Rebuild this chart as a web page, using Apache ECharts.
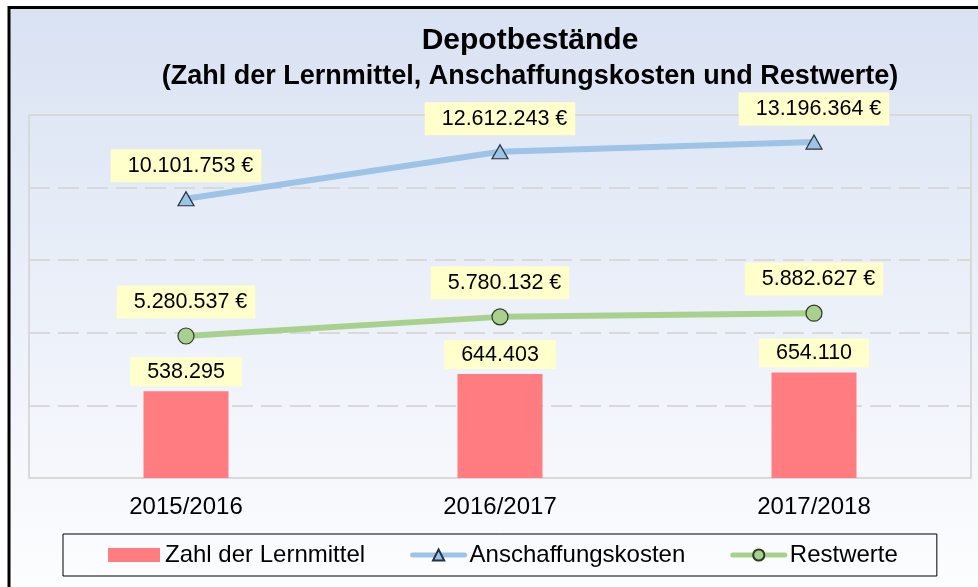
<!DOCTYPE html>
<html>
<head>
<meta charset="utf-8">
<title>Depotbestände</title>
<script src="https://cdn.jsdelivr.net/npm/echarts@6/dist/echarts.min.js"></script>
<style>
  html, body { margin: 0; padding: 0; background: #fff; overflow: hidden; }
  #chart { width: 978px; height: 587px; }
</style>
</head>
<body>
<div id="chart"></div>
<script>
// Werte
const categories = ['2015/2016', '2016/2017', '2017/2018']
const lernmittel = [538295, 644403, 654110]
const anschaffung = [10101753, 12612243, 13196364]
const restwerte = [5280537, 5780132, 5882627]

const font = '"Liberation Sans", Arial, sans-serif'

function fmt(v) {
  return String(v).replace(/\B(?=(\d{3})+(?!\d))/g, '.')
}

const labelBox = {
  show: true,
  position: 'top',
  fontFamily: font,
  fontSize: 21.5,
  color: '#000',
  backgroundColor: '#ffffcc'
}

const myChart = echarts.init(document.getElementById('chart'), null, { renderer: 'canvas' })

const option = {
  animation: false,
  textStyle: { fontFamily: font },
  graphic: [
    {
      type: 'rect',
      z: -10,
      silent: true,
      shape: { x: 9, y: 7.5, width: 1040, height: 620 },
      style: {
        stroke: '#000',
        lineWidth: 3,
        fill: new echarts.graphic.LinearGradient(0, 0, 0, 1, [
          { offset: 0, color: '#d9e2f3' },
          { offset: 1, color: '#ffffff' }
        ])
      }
    }
  ],
  title: {
    text: 'Depotbestände',
    subtext: '(Zahl der Lernmittel, Anschaffungskosten und Restwerte)',
    left: 525,
    top: 21,
    textAlign: 'center',
    itemGap: 7,
    textStyle: { fontFamily: font, fontSize: 30, fontWeight: 'bold', color: '#000' },
    subtextStyle: { fontFamily: font, fontSize: 27, fontWeight: 'bold', color: '#000' }
  },
  legend: {
    left: 63,
    top: 534,
    padding: [9, 39, 9, 45],
    itemGap: 45,
    itemWidth: 52,
    itemHeight: 14,
    borderColor: '#000',
    borderWidth: 1,
    lineStyle: { width: 5, cap: 'round' },
    textStyle: { fontFamily: font, fontSize: 24, color: '#000' },
    data: [
      { name: 'Zahl der Lernmittel', icon: 'rect' },
      { name: 'Anschaffungskosten' },
      { name: 'Restwerte' }
    ]
  },
  grid: {
    left: 29,
    right: 7,
    top: 115,
    bottom: 109,
    show: true,
    borderColor: '#d9d9d9',
    borderWidth: 2,
    backgroundColor: 'transparent'
  },
  xAxis: {
    type: 'category',
    data: categories,
    axisLine: { lineStyle: { color: '#d9d9d9', width: 2 } },
    axisTick: { show: false },
    axisLabel: { fontFamily: font, fontSize: 24, color: '#000', margin: 17 }
  },
  yAxis: [
    {
      // Euro-Werte, logarithmisch
      type: 'log',
      min: 2700000,
      max: 15000000,
      show: false,
      splitLine: { show: false }
    },
    {
      // Stückzahlen
      type: 'value',
      min: 0,
      max: 2250000,
      interval: 450000,
      axisLine: { show: false },
      axisTick: { show: false },
      axisLabel: { show: false },
      splitLine: {
        show: true,
        lineStyle: { color: '#d9d9d9', width: 2, type: [21, 8] }
      }
    }
  ],
  series: [
    {
      name: 'Zahl der Lernmittel',
      type: 'bar',
      yAxisIndex: 1,
      data: lernmittel,
      barWidth: 85,
      itemStyle: { color: '#ff7c80' },
      label: Object.assign({}, labelBox, {
        distance: 5,
        padding: [4, 17, 3, 17],
        formatter: p => fmt(p.value)
      })
    },
    {
      name: 'Anschaffungskosten',
      type: 'line',
      yAxisIndex: 0,
      data: anschaffung,
      symbol: 'triangle',
      symbolSize: [16, 14],
      lineStyle: { color: '#9dc3e6', width: 6 },
      itemStyle: { color: '#9dc3e6', borderColor: '#26323f', borderWidth: 1.2 },
      label: Object.assign({}, labelBox, {
        distance: 9,
        padding: [6, 8, 5, 17],
        formatter: p => fmt(p.value) + ' €'
      })
    },
    {
      name: 'Restwerte',
      type: 'line',
      yAxisIndex: 0,
      data: restwerte,
      symbol: 'circle',
      symbolSize: 16,
      lineStyle: { color: '#a9d18e', width: 6 },
      itemStyle: { color: '#a9d18e', borderColor: '#2c3a24', borderWidth: 1.2 },
      label: Object.assign({}, labelBox, {
        distance: 9,
        padding: [6, 8, 5, 17],
        formatter: p => fmt(p.value) + ' €'
      })
    }
  ]
}

myChart.setOption(option)
window.addEventListener('resize', function () {
  myChart.resize()
})
</script>
</body>
</html>
